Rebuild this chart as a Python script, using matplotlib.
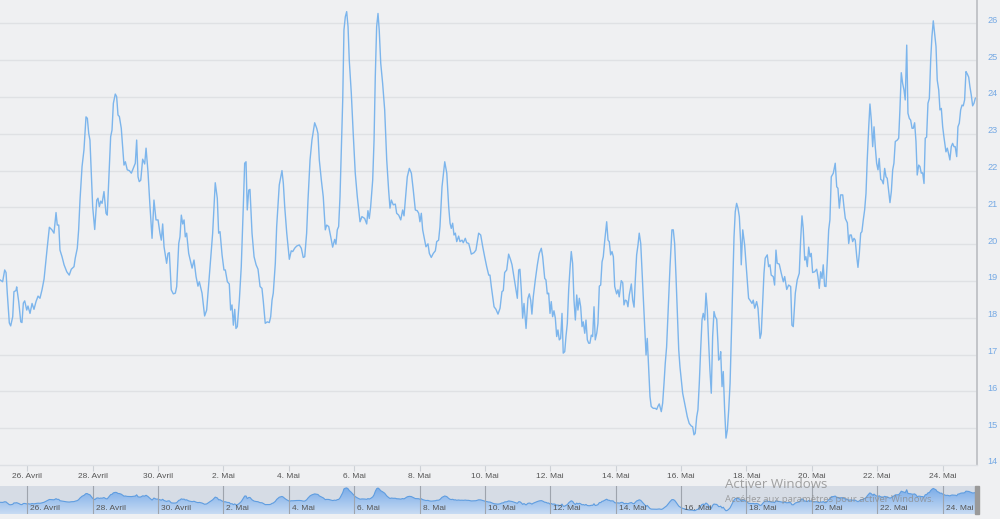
import numpy as np
import pandas as pd
import matplotlib
matplotlib.use("Agg")
import matplotlib.pyplot as plt
import matplotlib.dates as mdates
from matplotlib.colors import LinearSegmentedColormap
from matplotlib.transforms import ScaledTranslation

plt.rcParams.update({"font.family": ["Liberation Sans", "DejaVu Sans"]})

# ---------- data (hours since 25 April 00:00, value) ----------
start = pd.Timestamp("2021-04-25")

hours_a = [4.0, 5.9, 7.4, 8.4, 9.3, 10.8, 11.8, 13.3, 14.2, 15.7,
           16.2, 17.7, 19.2, 20.1, 21.1, 22.1, 23.6, 24.5, 26.0, 27.5,
           28.9, 30.4, 31.9, 33.3, 34.8, 36.3, 37.7, 38.7, 40.2, 42.1,
           43.6, 45.1, 46.0, 47.1, 48.0, 49.5, 51.0, 53.0, 54.8, 56.3,
           58.3, 59.2, 60.7, 61.7, 62.7, 64.2, 65.6, 67.1, 68.1, 69.1,
           70.0, 71.0, 72.0, 73.5, 75.0, 75.9, 76.9, 77.9, 78.9, 80.3,
           81.8, 82.7, 83.8, 85.2, 86.2, 87.2, 88.6, 89.6, 90.6, 91.6,
           93.0, 94.0, 95.0, 96.0, 97.4, 98.9, 100.4, 101.8, 103.3, 104.3,
           105.3, 106.2, 107.3, 108.7, 110.2, 111.2, 112.6, 114.1, 115.6, 117.0,
           118.5, 120.0, 121.4, 122.4, 123.4, 124.4, 126.3, 127.3, 128.3, 129.7,
           131.2, 132.7, 133.7, 135.2, 136.1, 137.1, 138.1, 139.1, 140.0, 141.0,
           142.5, 145.0, 146.4, 147.9, 149.3, 150.3, 152.3, 154.2, 155.7, 157.6,
           160.1, 162.0, 163.5, 164.5, 165.5, 167.0, 168.4, 169.4, 170.9, 172.3,
           173.3, 174.3, 175.3, 176.3, 177.2, 178.2, 179.7, 181.1, 182.6, 183.6,
           184.6, 185.5, 186.6, 187.5]
values_a = [19.03, 18.98, 19.30, 19.23, 18.67, 17.86, 17.78, 18.03, 18.71, 18.74,
            18.84, 18.44, 17.89, 17.87, 18.40, 18.46, 18.21, 18.32, 18.12, 18.39,
            18.23, 18.44, 18.59, 18.53, 18.76, 19.05, 19.57, 19.93, 20.46, 20.39,
            20.30, 20.86, 20.52, 20.52, 19.84, 19.66, 19.44, 19.25, 19.16, 19.32,
            19.39, 19.62, 19.89, 20.39, 21.20, 22.11, 22.56, 23.46, 23.42, 23.01,
            22.83, 21.93, 21.02, 20.40, 21.20, 21.25, 21.02, 21.17, 21.11, 21.43,
            20.84, 20.79, 21.74, 22.92, 23.10, 23.83, 24.08, 24.01, 23.51, 23.47,
            23.15, 22.65, 22.15, 22.24, 22.02, 22.00, 21.93, 22.06, 22.20, 22.83,
            21.83, 21.70, 21.74, 22.31, 22.18, 22.61, 21.97, 21.02, 20.16, 21.20,
            20.66, 20.66, 20.30, 20.11, 20.55, 19.93, 19.48, 19.75, 19.77, 18.76,
            18.65, 18.67, 18.85, 20.02, 20.20, 20.79, 20.55, 20.66, 20.20, 20.30,
            19.75, 19.35, 19.57, 19.12, 18.86, 18.98, 18.67, 18.05, 18.21, 19.12,
            20.30, 21.67, 21.25, 20.30, 20.34, 19.71, 19.30, 19.30, 18.98, 18.92,
            18.21, 18.35, 17.80, 18.23, 17.71, 17.76, 18.48, 19.39, 21.02, 22.20,
            22.24, 20.93, 21.47, 21.49]

hours_b = [189.0, 190.5, 192.0, 193.4, 194.9, 196.3, 197.3, 198.7, 200.2, 201.7,
           202.7, 203.7, 204.6, 206.1, 207.1, 209.0, 211.0, 212.0, 213.0, 214.5,
           216.4, 217.8, 218.9, 220.3, 221.8, 223.7, 225.2, 226.6, 227.7, 229.1,
           230.1, 231.6, 233.0, 235.0, 236.5, 237.4, 238.4, 239.9, 241.3, 242.8,
           243.8, 245.3, 246.8, 248.2, 249.7, 250.6, 251.6, 252.6, 253.6, 254.5,
           255.6, 256.5, 257.5, 258.5, 259.5, 260.4, 261.9, 263.3, 264.8, 266.3,
           268.3, 269.7, 271.7, 273.2, 274.1, 275.1, 276.1, 277.6, 278.6, 279.5,
           280.5, 281.5, 282.4, 283.5, 284.9, 286.4, 287.9, 289.3, 290.3, 291.3,
           292.7, 294.2, 295.2, 296.7, 298.2, 299.6, 300.6, 302.0, 303.0, 304.5,
           306.0, 307.4, 308.9, 310.3, 311.4, 312.3, 313.3, 314.3, 315.8, 316.7,
           318.2, 319.2, 320.6, 322.1, 323.6, 324.6, 326.0, 327.0, 328.5, 330.5,
           332.0, 333.4, 334.4, 335.3, 336.3, 337.3, 338.3, 339.3, 340.7, 341.7,
           343.2, 344.1, 345.6, 346.6, 348.1, 349.0, 350.0, 352.0, 353.4, 355.4,
           356.9, 358.4, 359.8, 361.3, 362.8, 363.7, 364.7, 365.7, 366.7, 368.1,
           369.6, 371.1]
values_b = [20.30, 19.66, 19.44, 19.32, 18.85, 18.80, 18.44, 17.85, 17.89, 17.87,
            18.03, 18.48, 18.67, 19.48, 20.48, 21.61, 22.00, 21.65, 21.02, 20.30,
            19.59, 19.82, 19.80, 19.89, 19.95, 19.98, 19.89, 19.64, 19.66, 20.30,
            21.20, 22.29, 22.83, 23.30, 23.15, 23.01, 22.29, 21.74, 21.29, 20.39,
            20.52, 20.48, 20.20, 19.92, 20.13, 20.00, 20.39, 20.48, 21.29, 22.47,
            23.92, 25.82, 26.18, 26.32, 25.91, 25.00, 24.10, 23.01, 21.93, 21.29,
            20.61, 20.75, 20.70, 20.55, 20.91, 20.70, 21.02, 21.74, 22.83, 24.55,
            25.91, 26.27, 25.82, 24.92, 24.37, 23.65, 22.29, 21.47, 20.98, 21.20,
            21.07, 21.09, 20.84, 20.79, 20.66, 20.93, 20.77, 21.38, 21.83, 22.06,
            21.93, 21.47, 20.93, 20.91, 20.84, 20.61, 20.84, 20.39, 20.11, 19.93,
            20.01, 19.75, 19.64, 19.75, 19.82, 20.07, 20.11, 20.48, 21.56, 22.24,
            21.93, 21.02, 20.57, 20.43, 20.57, 20.25, 20.30, 20.07, 20.22, 20.07,
            20.11, 20.04, 20.16, 20.04, 20.02, 19.89, 19.73, 19.77, 19.84, 20.30,
            20.25, 19.93, 19.66, 19.39, 19.16, 19.16, 18.85, 18.57, 18.30, 18.23,
            18.10, 18.26]

hours_c = [372.5, 373.5, 374.5, 376.0, 377.4, 378.9, 379.9, 381.3, 382.8, 383.8,
           384.8, 385.7, 386.7, 387.7, 388.7, 390.2, 391.6, 392.6, 393.6, 394.5,
           395.5, 397.0, 398.5, 399.9, 401.4, 402.4, 403.9, 404.8, 405.8, 406.8,
           407.8, 408.7, 409.7, 410.7, 411.7, 412.7, 413.6, 414.6, 415.6, 416.6,
           417.5, 418.6, 419.5, 420.5, 421.5, 422.4, 423.4, 424.4, 425.4, 426.4,
           427.4, 428.3, 429.3, 430.3, 431.3, 432.2, 433.3, 434.2, 435.2, 436.2,
           437.1, 438.1, 439.1, 440.1, 441.0, 442.1, 443.0, 444.0, 445.0, 446.0,
           446.9, 447.9, 449.4, 450.4, 451.3, 452.3, 453.3, 454.3, 455.3, 456.7,
           457.7, 458.6, 460.1, 461.2, 462.1, 463.1, 464.1, 465.0, 466.0, 467.5,
           468.5, 469.5, 470.4, 471.4, 472.4, 473.3, 474.4, 475.3, 476.3, 477.3,
           478.3, 479.2, 480.2, 481.2, 482.1, 483.6, 485.1, 486.1, 487.1, 488.0,
           489.5, 490.5, 491.5, 492.4, 493.4, 494.9, 495.9, 497.3, 498.3, 499.3,
           500.3, 501.2, 502.3, 503.2, 505.2, 507.1, 508.6, 510.0, 511.5, 512.5,
           513.5, 514.4, 515.5, 516.4, 517.4, 518.4, 519.4, 520.3, 521.4, 522.3,
           523.3, 524.3, 525.2, 526.2, 527.2, 528.2, 529.1, 530.2, 531.1, 531.6,
           532.6, 533.1, 534.1, 535.0, 536.0, 537.0, 538.0, 539.0, 540.0, 540.9,
           541.9, 542.9, 543.8, 544.8, 545.8, 546.8, 547.8, 548.2, 549.3, 550.7,
           552.2, 553.6, 554.6]
values_c = [18.71, 18.74, 19.23, 19.30, 19.73, 19.57, 19.44, 19.12, 18.76, 18.53,
            19.30, 19.32, 18.76, 17.99, 18.39, 17.71, 18.53, 18.65, 18.48, 18.10,
            18.57, 19.03, 19.44, 19.75, 19.89, 19.66, 19.07, 19.03, 18.65, 18.67,
            18.12, 18.44, 18.03, 18.19, 17.99, 17.49, 17.67, 17.40, 17.44, 18.12,
            17.04, 17.08, 17.49, 17.85, 18.76, 19.30, 19.80, 19.48, 18.48, 17.94,
            18.62, 18.21, 18.53, 18.30, 17.76, 17.89, 17.58, 17.94, 17.40, 17.31,
            17.31, 17.53, 17.49, 18.30, 17.40, 17.58, 17.85, 18.86, 18.89, 19.52,
            19.66, 20.07, 20.61, 20.11, 20.07, 19.71, 19.80, 19.66, 18.85, 18.65,
            18.76, 18.57, 19.01, 18.95, 18.35, 18.48, 18.46, 18.30, 18.62, 18.92,
            18.48, 18.29, 19.03, 19.71, 19.98, 20.30, 20.02, 19.30, 18.48, 17.76,
            16.99, 17.44, 16.67, 15.86, 15.59, 15.54, 15.54, 15.51, 15.60, 15.66,
            15.45, 15.68, 16.22, 16.76, 17.21, 18.48, 19.39, 20.39, 20.39, 20.02,
            19.12, 18.21, 17.13, 16.67, 15.95, 15.59, 15.31, 15.13, 15.06, 15.04,
            14.82, 14.86, 15.31, 15.50, 16.22, 17.13, 17.94, 18.12, 17.94, 18.67,
            18.21, 17.31, 16.58, 15.95, 17.49, 18.17, 18.03, 17.96, 17.31, 16.85,
            16.90, 17.08, 16.13, 16.54, 15.50, 14.73, 14.95, 15.50, 16.22, 17.49,
            18.94, 20.20, 20.88, 21.11, 20.98, 20.75, 20.02, 19.44, 20.39, 19.98,
            19.21, 18.53, 18.48]

hours_d = [556.1, 557.0, 558.1, 559.5, 560.5, 562.0, 562.9, 564.0, 564.9, 565.8,
           567.3, 568.3, 569.3, 570.2, 571.7, 572.7, 573.7, 574.6, 576.1, 577.6,
           579.1, 580.1, 581.6, 583.0, 584.5, 585.4, 586.4, 587.9, 589.3, 590.8,
           591.8, 592.8, 593.7, 594.8, 595.7, 596.7, 597.7, 598.7, 599.6, 600.6,
           602.1, 603.6, 604.5, 605.5, 606.5, 607.5, 608.4, 609.4, 610.4, 611.4,
           612.4, 613.3, 614.3, 615.8, 617.2, 618.3, 619.2, 620.2, 621.2, 622.7,
           623.6, 624.6, 626.1, 627.1, 628.0, 629.0, 630.0, 631.0, 631.9, 633.0,
           633.9, 634.9, 635.9, 636.8, 637.8, 638.8, 639.8, 640.7, 641.8, 642.7,
           643.7, 644.7, 645.7, 646.6, 647.6, 648.6, 649.5, 650.6, 651.5, 652.5,
           653.5, 654.5, 655.4, 656.4, 657.4, 658.4, 659.4, 660.3, 661.3, 662.8,
           663.8, 664.7, 665.7, 666.7, 667.7, 668.6, 669.7, 670.6, 671.6, 672.6,
           673.6, 674.5, 675.5, 676.5, 677.4, 678.5, 679.4, 680.4, 681.4, 682.4,
           683.3, 684.3, 685.3, 686.3, 687.3, 688.2, 689.2, 690.2, 691.2, 692.1,
           693.2, 694.1, 695.1, 696.1, 697.0, 698.5, 699.5, 700.5, 701.4, 702.4,
           703.4, 704.4, 705.3, 706.4, 707.3, 708.3, 709.3, 710.3, 711.2, 712.2,
           713.2, 714.1, 715.2, 716.1, 717.1, 718.1, 719.1, 720.0, 721.1]
values_d = [18.39, 18.48, 18.26, 18.44, 18.26, 17.44, 17.58, 18.48, 19.21, 19.62,
            19.71, 19.39, 19.44, 19.16, 19.12, 18.89, 19.84, 19.48, 19.46, 19.21,
            18.98, 19.12, 18.77, 18.89, 18.85, 17.80, 17.76, 18.67, 19.03, 19.21,
            20.11, 20.77, 20.43, 19.57, 19.66, 19.39, 19.92, 19.66, 19.75, 19.23,
            19.25, 19.32, 19.12, 18.80, 19.25, 19.07, 19.44, 18.86, 18.85, 19.57,
            20.39, 20.66, 21.83, 21.93, 22.20, 21.56, 21.52, 20.98, 21.34, 21.34,
            21.02, 20.70, 20.58, 20.02, 20.25, 20.25, 20.07, 20.16, 20.11, 19.66,
            19.37, 19.75, 20.30, 20.34, 20.66, 20.93, 21.38, 22.29, 23.19, 23.81,
            23.37, 22.65, 23.19, 22.65, 22.20, 22.02, 22.33, 21.76, 21.74, 21.64,
            22.06, 21.83, 21.79, 21.47, 21.13, 21.43, 22.02, 22.20, 22.79, 22.83,
            22.88, 23.65, 24.66, 24.37, 24.19, 23.92, 25.41, 23.56, 23.42, 23.37,
            23.15, 23.15, 23.30, 22.79, 21.88, 22.15, 22.11, 21.93, 21.94, 21.65,
            22.88, 22.91, 23.83, 23.96, 25.01, 25.64, 26.07, 25.73, 25.37, 24.46,
            24.19, 23.65, 23.69, 23.19, 22.92, 22.51, 22.61, 22.45, 22.29, 22.65,
            22.74, 22.65, 22.65, 22.38, 23.19, 23.29, 23.65, 23.78, 23.76, 23.92,
            24.69, 24.63, 24.54, 24.28, 24.05, 23.76, 23.83, 23.96, 23.99]

y_ticks = list(range(14, 27))
tick_dates = ["2021-04-26", "2021-04-28", "2021-04-30", "2021-05-02", "2021-05-04",
              "2021-05-06", "2021-05-08", "2021-05-10", "2021-05-12", "2021-05-14",
              "2021-05-16", "2021-05-18", "2021-05-20", "2021-05-22", "2021-05-24"]
tick_labels = ["26. Avril", "28. Avril", "30. Avril", "2. Mai", "4. Mai", "6. Mai",
               "8. Mai", "10. Mai", "12. Mai", "14. Mai", "16. Mai", "18. Mai",
               "20. Mai", "22. Mai", "24. Mai"]

hours = np.array(hours_a + hours_b + hours_c + hours_d)
values = np.array(values_a + values_b + values_c + values_d)
times = start + pd.to_timedelta(hours, unit="h")
ticks = pd.to_datetime(tick_dates)

BG = "#eff0f2"
LINE = "#7cb5ec"
x0 = start + pd.Timedelta(hours=3.96)
x1 = start + pd.Timedelta(hours=721.3)

fig = plt.figure(figsize=(10, 5.19), dpi=100, facecolor=BG)

# ---------- main chart ----------
ax = fig.add_axes([0, 1 - 465 / 519, 0.977, 465 / 519], facecolor=BG)
for v in y_ticks[1:]:
    ax.axhline(v, color="#dfe1e4", lw=1, zorder=0)
ax.plot(times, values, color=LINE, lw=1.0, zorder=2)
ax.set_xlim(x0, x1)
ax.set_ylim(14, 14 + 465 / 36.8)

ax.yaxis.tick_right()
ax.set_yticks(y_ticks)
ax.set_yticklabels([str(v) for v in y_ticks])
ax.tick_params(axis="y", length=0, pad=7.2, labelsize=6.6, labelcolor="#75a9e4")
for lab in ax.get_yticklabels():
    lab.set_transform(lab.get_transform() + ScaledTranslation(0, 0.04, fig.dpi_scale_trans))

ax.set_xticks(ticks)
ax.set_xticklabels(tick_labels)
ax.tick_params(axis="x", length=4.3, width=0.8, color="#ccd0d6", pad=1.5,
               labelsize=6.0, labelcolor="#555555")

for s in ["left", "top"]:
    ax.spines[s].set_visible(False)
ax.spines["bottom"].set_color("#dde0e4")
ax.spines["bottom"].set_linewidth(1)
ax.spines["right"].set_color("#c2c4c8")
ax.spines["right"].set_linewidth(1.4)

# ---------- navigator ----------
nav = fig.add_axes([0, 5 / 519, 0.977, 28 / 519], facecolor="#d6dce5")
nlo, nhi = 13.1, 27.3
nav.set_xlim(x0, x1)
nav.set_ylim(nlo, nhi)
poly = nav.fill_between(times, values, nlo, color="none", lw=0)
cmap = LinearSegmentedColormap.from_list("nav", ["#c8dbf3", "#78abe8"])
grad = np.linspace(0, 1, 256).reshape(-1, 1)
im = nav.imshow(grad, cmap=cmap, origin="lower", aspect="auto",
                extent=[mdates.date2num(x0), mdates.date2num(x1), nlo, 26.5], zorder=1)
im.set_clip_path(poly.get_paths()[0], transform=nav.transData)
nav.plot(times, values, color="#5f9de0", lw=0.8, zorder=2)
for t, lab in zip(ticks, tick_labels):
    nav.axvline(t, color="#9ea4ad", lw=0.8, zorder=3)
    nav.text(t, 0.2, lab, transform=nav.get_xaxis_transform() +
             ScaledTranslation(0.03, 0, fig.dpi_scale_trans),
             ha="left", va="center", fontsize=6.0, color="#555555", zorder=4)
nav.set_xticks([])
nav.set_yticks([])
for s in nav.spines.values():
    s.set_visible(False)

# right handle of the navigator
fig.patches.append(plt.Rectangle((975 / 1000, 5 / 519), 4 / 1000, 28 / 519,
                                 transform=fig.transFigure, color="#9a9a9a", zorder=5))

# Windows activation watermark
fig.text(0.725, 1 - 484 / 519, "Activer Windows", fontsize=9.5, color="#8c8c8c",
         alpha=0.8, va="center", ha="left", family="Open Sans")
fig.text(0.725, 1 - 500 / 519, "Accédez aux paramètres pour activer Windows.",
         fontsize=6.8, color="#8c8c8c", alpha=0.8, va="center", ha="left",
         family="Open Sans")

plt.savefig("out.png", dpi=100, facecolor=BG)
plt.close()
